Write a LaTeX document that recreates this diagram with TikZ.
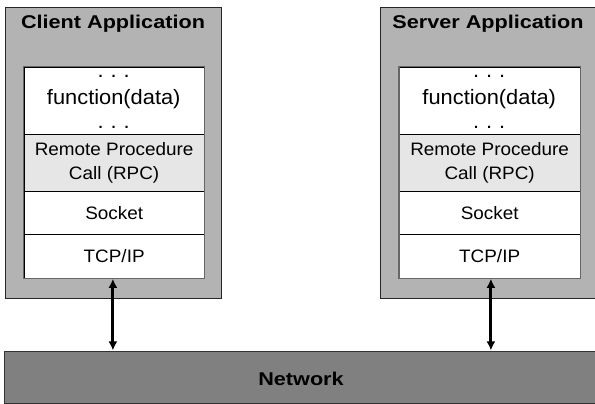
\documentclass[tikz,border=0pt]{standalone}
\usepackage{fontspec}
\setmainfont{Liberation Sans}[FakeStretch=1.05]
\newfontfamily\headfont{Liberation Sans Bold}[FakeStretch=1.17]
\usetikzlibrary{arrows.meta}
\definecolor{appgray}{HTML}{B3B3B3}
\definecolor{netgray}{HTML}{808080}
\definecolor{rpcgray}{HTML}{E6E6E6}
\tikzset{
  appbox/.style={draw=black!85, line width=1pt, fill=appgray, inner sep=0pt,
    anchor=north west, minimum width=216pt, minimum height=291pt},
  layer/.style={draw=black, line width=0.8pt, fill=white, inner sep=0pt,
    anchor=north west, minimum width=180.5pt,
    font=\fontsize{18}{23.4}\selectfont, align=center},
  rpclayer/.style={layer, fill=rpcgray},
  stackframe/.style={draw=black!60, line width=1.3pt},
  title/.style={font=\headfont\fontsize{18.5}{22}\selectfont, anchor=base},
  bodytext/.style={font=\fontsize{20.8}{24}\selectfont, anchor=base, inner sep=0pt},
  netbox/.style={draw=black!80, line width=1pt, fill=netgray, inner sep=0pt,
    anchor=north west, minimum width=594pt, minimum height=52pt},
  link/.style={line width=3pt, {Latex[length=9pt,width=9pt]}-{Latex[length=9pt,width=9pt]}, shorten <=0.3pt, shorten >=0.3pt}
}
\begin{document}
\begin{tikzpicture}[x=1pt, y=-1pt]
\useasboundingbox (0,0) rectangle (595,404);

% network bar along the bottom
\node[netbox] (net) at (3.5,350.7) {};
\node[title] (netlabel) at (301,385.7) {Network};

% client side
\node[appbox] (client) at (5,7) {};
\node[title] (clienttitle) at (113,28.3) {Client Application};
\node[layer, minimum height=67.3pt] (cfunc) at (23.5,66.7) {};
\node[rpclayer, minimum height=56.7pt] (crpc) at (23.5,134) {Remote Procedure\\Call (RPC)};
\node[layer, minimum height=43.6pt] (csock) at (23.5,190.7) {Socket};
\node[layer, minimum height=43.4pt] (ctcp) at (23.5,234.3) {TCP/IP};
\draw[stackframe] (cfunc.north west) rectangle (ctcp.south east);
\node[bodytext] (cdots1) at (113.75,77.3) {.\,\,.\,\,.};
\node[bodytext] (cfn) at (113.75,104) {function(data)};
\node[bodytext] (cdots2) at (113.75,128.3) {.\,\,.\,\,.};

% server side
\node[appbox] (server) at (380,7) {};
\node[title] (servertitle) at (488,28.3) {Server Application};
\node[layer, minimum height=67.3pt] (sfunc) at (399,66.7) {};
\node[rpclayer, minimum height=56.7pt] (srpc) at (399,134) {Remote Procedure\\Call (RPC)};
\node[layer, minimum height=43.6pt] (ssock) at (399,190.7) {Socket};
\node[layer, minimum height=43.4pt] (stcp) at (399,234.3) {TCP/IP};
\draw[stackframe] (sfunc.north west) rectangle (stcp.south east);
\node[bodytext] (sdots1) at (489.25,77.3) {.\,\,.\,\,.};
\node[bodytext] (sfn) at (489.25,104) {function(data)};
\node[bodytext] (sdots2) at (489.25,128.3) {.\,\,.\,\,.};

% links between the stacks and the network
\draw[link] ([xshift=-1.25pt]ctcp.south) -- ([xshift=-1.25pt]ctcp.south |- net.north);
\draw[link] ([xshift=1.25pt]stcp.south) -- ([xshift=1.25pt]stcp.south |- net.north);
\end{tikzpicture}
\end{document}
